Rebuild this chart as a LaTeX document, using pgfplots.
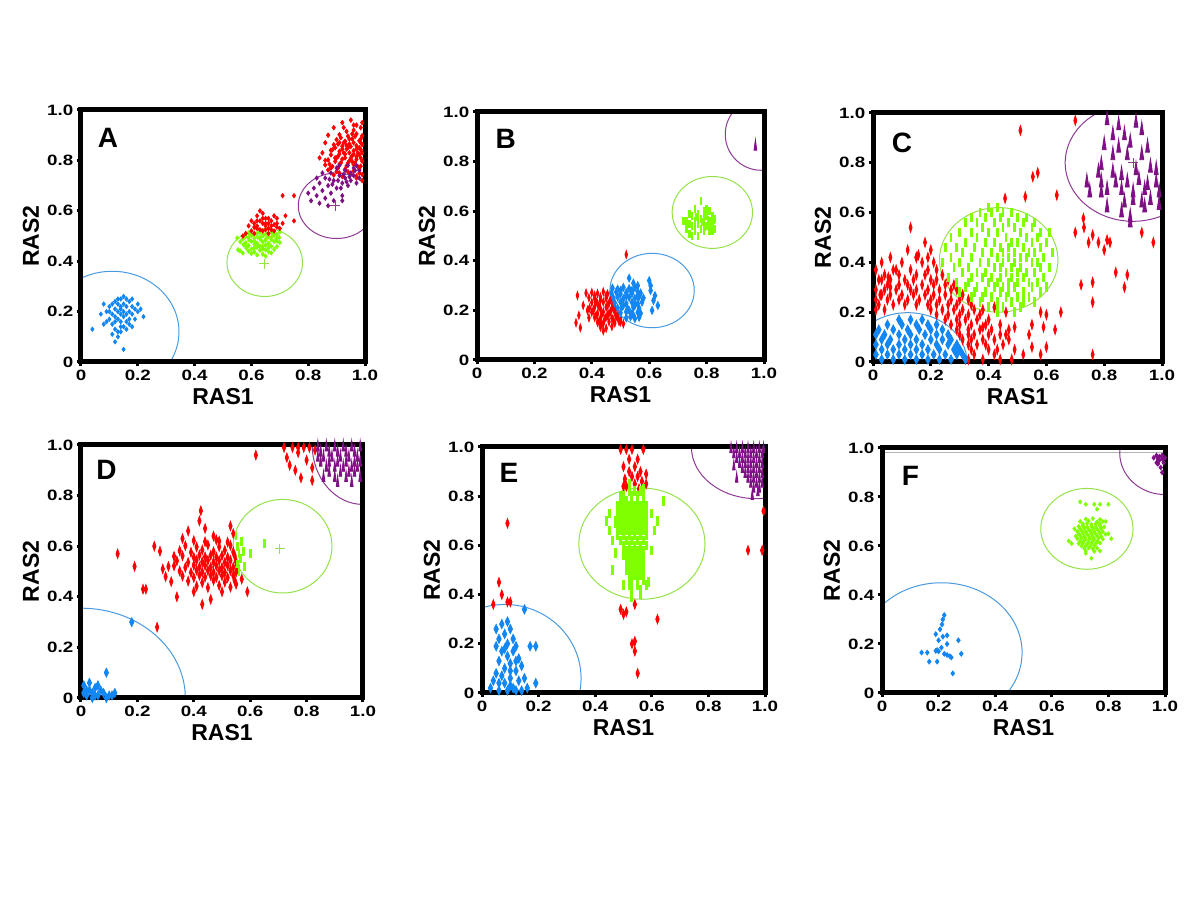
\documentclass[border=0pt]{standalone}
\usepackage{fontspec}
\setmainfont{Liberation Sans}
\usepackage{pgfplots}
\pgfplotsset{compat=1.18}
\definecolor{cR}{HTML}{FF0000}
\definecolor{cG}{HTML}{80FF00}
\definecolor{cB}{HTML}{1286F2}
\definecolor{cP}{HTML}{7E0F85}
\definecolor{lG}{HTML}{94E24A}
\definecolor{lB}{HTML}{4A9AE0}
\definecolor{lP}{HTML}{8E3A94}
\newcommand{\tl}[1]{\scalebox{1.25}[1]{#1}}
\tikzset{lett/.style={font=\bfseries\fontsize{14}{16}\selectfont}}
\pgfplotsset{
  panel/.style={
    scale only axis, anchor=south west,
    xmin=0,xmax=1,ymin=0,ymax=1,
    xtick={0,0.2,0.4,0.6,0.8,1}, xticklabels={\tl{0},\tl{0.2},\tl{0.4},\tl{0.6},\tl{0.8},\tl{1.0}},
    ytick={0,0.2,0.4,0.6,0.8,1}, yticklabels={\tl{0},\tl{0.2},\tl{0.4},\tl{0.6},\tl{0.8},\tl{1.0}},
    /pgf/number format/assume math mode=true,
    axis line style={line width=2.5pt},
    tick style={line width=1.5pt,black}, major tick length=2.2pt,
    tick align=outside, tick pos=left,
    ticklabel style={font=\bfseries\fontsize{7.5}{9}\selectfont, inner sep=1.5pt},
    xlabel={RAS1}, ylabel={RAS2},
    label style={font=\bfseries\fontsize{11.5}{13}\selectfont},
    xlabel style={yshift=1pt}, ylabel style={yshift=-1pt},
    axis on top, clip=true,
  },
  dm/.style n args={4}{only marks, mark=diamond*, mark size=#2, color=#1,
    mark options={draw=none, fill=#1, xscale=#3, yscale=#4}},
  tm/.style n args={4}{only marks, mark=triangle*, mark size=#2, color=#1,
    mark options={draw=none, fill=#1, xscale=#3, yscale=#4}},
  bm/.style n args={3}{only marks, mark=|, mark size=#2, color=#1,
    mark options={line width=#3}},
  pl/.style={only marks, mark=+, mark size=2.5pt, color=#1, mark options={line width=0.4pt}},
}
\begin{document}
\begin{tikzpicture}
\path[use as bounding box] (0,0) rectangle (600pt,450pt);
% ================= A =================
\begin{axis}[panel, at={(40.5pt,269pt)}, width=142pt, height=126pt]
\addplot[dm={cB}{1.05pt}{1}{1}] coordinates {
(0.04,0.13)(0.08,0.23)(0.09,0.20)(0.10,0.22)(0.10,0.17)(0.11,0.19)(0.11,0.15)(0.12,0.24)(0.12,0.21)(0.12,0.18)(0.12,0.13)(0.13,0.23)(0.13,0.20)(0.13,0.17)(0.13,0.10)(0.14,0.25)(0.14,0.22)(0.14,0.19)(0.14,0.16)(0.14,0.12)(0.15,0.26)(0.15,0.23)(0.15,0.20)(0.15,0.18)(0.15,0.14)(0.16,0.22)(0.16,0.19)(0.16,0.16)(0.17,0.24)(0.17,0.20)(0.17,0.17)(0.18,0.22)(0.18,0.19)(0.18,0.14)(0.19,0.21)(0.20,0.20)(0.20,0.23)(0.22,0.18)(0.11,0.11)(0.12,0.08)(0.15,0.05)(0.09,0.16)(0.07,0.19)(0.08,0.15)(0.16,0.25)(0.12,0.16)(0.14,0.21)(0.16,0.13)(0.19,0.17)(0.10,0.20)(0.13,0.25)(0.11,0.23)(0.17,0.15)(0.14,0.14)(0.13,0.12)(0.18,0.25)(0.21,0.21)};
\addplot[dm={cG}{1.05pt}{1}{1}] coordinates {
(0.59,0.512)(0.612,0.507)(0.63,0.515)(0.651,0.509)(0.672,0.513)(0.69,0.506)(0.70,0.516)
(0.58,0.498)(0.60,0.502)(0.622,0.495)(0.641,0.501)(0.66,0.497)(0.68,0.503)(0.698,0.494)
(0.57,0.488)(0.592,0.484)(0.61,0.491)(0.632,0.486)(0.652,0.49)(0.67,0.485)(0.688,0.489)
(0.561,0.477)(0.58,0.473)(0.60,0.479)(0.62,0.472)(0.64,0.476)(0.661,0.471)(0.68,0.478)(0.70,0.474)
(0.572,0.465)(0.59,0.462)(0.611,0.467)(0.63,0.46)(0.65,0.464)(0.67,0.459)
(0.582,0.452)(0.60,0.448)(0.62,0.455)(0.641,0.449)(0.66,0.453)(0.68,0.447)
(0.59,0.44)(0.61,0.437)(0.63,0.443)(0.66,0.438)(0.56,0.441)(0.60,0.43)(0.64,0.428)(0.67,0.433)
(0.57,0.432)(0.62,0.425)(0.65,0.42)(0.55,0.492)(0.553,0.445)(0.69,0.458)
(0.60,0.505)(0.62,0.51)(0.64,0.505)(0.66,0.508)(0.68,0.51)(0.59,0.494)(0.61,0.48)(0.63,0.495)(0.65,0.482)(0.67,0.495)(0.69,0.48)(0.58,0.462)(0.62,0.465)(0.64,0.458)(0.66,0.468)(0.61,0.452)(0.65,0.445)};
\addplot[dm={cR}{1.05pt}{1}{1}] coordinates {
(0.58,0.51)(0.60,0.52)(0.62,0.53)(0.64,0.52)(0.66,0.53)(0.68,0.52)(0.70,0.53)(0.61,0.55)(0.63,0.56)(0.65,0.55)(0.67,0.56)(0.69,0.55)(0.62,0.58)(0.64,0.59)(0.66,0.57)(0.68,0.58)(0.63,0.60)(0.65,0.54)(0.67,0.54)(0.59,0.54)(0.60,0.56)(0.57,0.50)(0.71,0.66)(0.75,0.66)(0.75,0.56)(0.72,0.58)(0.71,0.55)(0.69,0.57)(0.64,0.55)(0.62,0.54)(0.66,0.51)(0.61,0.51)(0.63,0.525)(0.65,0.525)(0.67,0.525)(0.61,0.535)(0.69,0.535)(0.64,0.57)(0.66,0.55)(0.62,0.56)(0.68,0.545)(0.65,0.57)};
\addplot[dm={cR}{1.1pt}{1}{1}] coordinates {
(0.89,0.742)(0.92,0.736)(0.95,0.745)(0.97,0.738)(0.99,0.744)
(0.87,0.762)(0.90,0.756)(0.93,0.765)(0.96,0.758)(0.98,0.763)
(0.86,0.782)(0.885,0.776)(0.91,0.785)(0.935,0.778)(0.96,0.784)(0.985,0.777)
(0.87,0.802)(0.895,0.796)(0.92,0.805)(0.945,0.798)(0.97,0.804)(0.99,0.797)
(0.88,0.822)(0.905,0.816)(0.93,0.825)(0.955,0.818)(0.98,0.823)
(0.885,0.842)(0.91,0.836)(0.935,0.845)(0.96,0.838)(0.985,0.843)
(0.89,0.862)(0.92,0.856)(0.945,0.865)(0.97,0.858)(0.99,0.863)
(0.90,0.882)(0.93,0.876)(0.955,0.885)(0.98,0.878)
(0.91,0.902)(0.94,0.896)(0.97,0.905)(0.99,0.898)
(0.89,0.93)(0.92,0.95)(0.95,0.96)(0.97,0.94)(0.99,0.95)(0.87,0.90)(0.86,0.87)(0.85,0.83)(0.84,0.81)(0.96,0.92)(0.985,0.93)(0.88,0.84)(0.86,0.80)(0.99,0.72)(0.97,0.73)
(0.90,0.81)(0.925,0.83)(0.95,0.81)(0.975,0.83)(0.94,0.85)(0.915,0.79)(0.965,0.79)(0.91,0.87)(0.96,0.87)
(0.875,0.785)(0.905,0.77)(0.94,0.79)(0.975,0.775)(0.93,0.81)(0.96,0.825)(0.92,0.845)(0.95,0.855)(0.98,0.85)(0.925,0.87)(0.965,0.895)(0.935,0.915)
(0.88,0.77)(0.91,0.75)(0.94,0.755)(0.98,0.75)(0.895,0.81)(0.955,0.795)(0.985,0.81)(0.91,0.825)(0.97,0.815)(0.895,0.85)(0.945,0.83)(0.97,0.845)(0.99,0.83)(0.905,0.865)(0.935,0.86)(0.985,0.87)(0.915,0.89)(0.945,0.885)(0.985,0.885)(0.955,0.905)(0.925,0.93)(0.96,0.94)};
\addplot[dm={cP}{1.05pt}{1}{1}] coordinates {
(0.80,0.67)(0.81,0.64)(0.82,0.69)(0.83,0.66)(0.84,0.71)(0.85,0.68)(0.86,0.65)(0.86,0.73)(0.87,0.70)(0.88,0.67)(0.88,0.75)(0.89,0.72)(0.90,0.69)(0.90,0.77)(0.91,0.74)(0.92,0.71)(0.92,0.66)(0.93,0.76)(0.93,0.73)(0.94,0.70)(0.95,0.75)(0.95,0.72)(0.96,0.77)(0.96,0.74)(0.97,0.71)(0.98,0.76)(0.98,0.73)(0.89,0.64)(0.84,0.63)(0.87,0.62)(0.91,0.78)(0.94,0.78)(0.85,0.75)(0.83,0.73)(0.97,0.78)(0.92,0.64)(0.885,0.705)(0.905,0.72)(0.925,0.745)(0.945,0.735)(0.965,0.76)(0.915,0.69)(0.875,0.725)(0.935,0.715)};
\addplot[pl=lG] coordinates {(0.645,0.39)};
\addplot[pl=lP] coordinates {(0.895,0.62)};
\draw[lB, line width=0.5pt] (axis cs:0.11,0.12) ellipse [x radius=0.235, y radius=0.24];
\draw[lG, line width=0.5pt] (axis cs:0.647,0.395) ellipse [x radius=0.133, y radius=0.135];
\draw[lP, line width=0.5pt] (axis cs:0.90,0.62) ellipse [x radius=0.135, y radius=0.13];
\node[lett] at (rel axis cs:0.095,0.89) {A};
\end{axis}
% ================= B =================
\begin{axis}[panel, at={(238.5pt,270pt)}, width=143.5pt, height=124pt]
\addplot[dm={cR}{1.95pt}{0.45}{1}] coordinates {
(0.345,0.15)(0.35,0.26)(0.355,0.18)(0.36,0.13)(0.37,0.22)(0.38,0.27)(0.385,0.20)(0.39,0.17)(0.52,0.425)
(0.40,0.272)(0.42,0.268)(0.44,0.275)(0.455,0.266)
(0.39,0.251)(0.41,0.247)(0.43,0.254)(0.45,0.249)(0.465,0.245)
(0.40,0.232)(0.42,0.227)(0.44,0.234)(0.46,0.229)(0.472,0.225)
(0.392,0.21)(0.41,0.214)(0.43,0.207)(0.45,0.213)(0.47,0.208)(0.482,0.205)
(0.40,0.192)(0.42,0.187)(0.44,0.194)(0.46,0.189)(0.48,0.193)(0.49,0.186)
(0.41,0.172)(0.43,0.168)(0.45,0.174)(0.47,0.169)(0.49,0.173)(0.50,0.166)
(0.42,0.152)(0.44,0.147)(0.46,0.154)(0.48,0.149)(0.50,0.153)(0.51,0.146)
(0.43,0.133)(0.45,0.128)(0.47,0.135)(0.44,0.118)(0.415,0.235)(0.435,0.185)(0.455,0.22)(0.475,0.16)(0.425,0.155)
(0.405,0.20)(0.425,0.215)(0.445,0.165)(0.465,0.195)(0.485,0.175)(0.495,0.155)(0.41,0.26)(0.43,0.24)(0.45,0.26)(0.415,0.18)(0.455,0.18)(0.475,0.215)(0.435,0.145)};
\addplot[dm={cB}{1.95pt}{0.65}{1}] coordinates {
(0.472,0.29)(0.49,0.286)(0.51,0.293)(0.53,0.288)(0.55,0.292)
(0.468,0.27)(0.485,0.274)(0.50,0.267)(0.52,0.272)(0.54,0.268)(0.56,0.275)(0.57,0.27)
(0.475,0.25)(0.49,0.254)(0.51,0.247)(0.53,0.252)(0.55,0.248)(0.565,0.255)(0.58,0.25)
(0.48,0.23)(0.50,0.234)(0.52,0.227)(0.54,0.232)(0.56,0.228)(0.575,0.233)
(0.49,0.21)(0.505,0.214)(0.525,0.207)(0.545,0.212)(0.565,0.208)
(0.50,0.19)(0.52,0.194)(0.54,0.187)(0.56,0.192)(0.57,0.188)
(0.52,0.17)(0.535,0.174)(0.55,0.167)(0.565,0.172)
(0.53,0.33)(0.60,0.32)(0.605,0.30)(0.62,0.26)(0.63,0.22)(0.61,0.20)(0.605,0.28)(0.615,0.24)(0.545,0.31)(0.56,0.30)
(0.50,0.28)(0.54,0.28)(0.52,0.26)(0.56,0.26)(0.51,0.22)(0.55,0.22)(0.53,0.20)(0.545,0.18)};
\addplot[bm={cG}{2pt}{1.2pt}] coordinates {
(0.72,0.56)(0.73,0.53)(0.74,0.55)(0.74,0.51)(0.75,0.58)(0.75,0.54)(0.76,0.56)(0.76,0.52)(0.77,0.59)(0.77,0.55)(0.77,0.50)(0.78,0.57)(0.78,0.53)(0.78,0.64)(0.79,0.60)(0.79,0.55)(0.79,0.52)(0.80,0.58)(0.80,0.54)(0.81,0.56)(0.81,0.52)(0.81,0.60)(0.82,0.55)(0.82,0.58)(0.83,0.57)(0.83,0.53)(0.76,0.61)(0.74,0.59)(0.80,0.61)(0.82,0.52)(0.75,0.50)(0.79,0.57)(0.81,0.54)(0.77,0.57)(0.73,0.56)(0.76,0.54)(0.785,0.555)(0.795,0.535)(0.805,0.565)(0.815,0.545)(0.825,0.565)(0.765,0.575)};
\addplot[tm={cP}{1.6pt}{0.5}{2.2}] coordinates {(0.97,0.86)};
\draw[lB, line width=0.5pt] (axis cs:0.61,0.28) ellipse [x radius=0.147, y radius=0.15];
\draw[lG, line width=0.5pt] (axis cs:0.82,0.595) ellipse [x radius=0.14, y radius=0.145];
\draw[lP, line width=0.5pt] (axis cs:0.99,0.91) ellipse [x radius=0.125, y radius=0.145];
\node[lett] at (rel axis cs:0.1,0.89) {B};
\end{axis}
% ================= C =================
\begin{axis}[panel, at={(436.5pt,269pt)}, width=144.5pt, height=124.5pt]
\addplot[dm={cR}{2.4pt}{0.42}{1}] coordinates {
(0.51,0.93)(0.70,0.97)(0.553,0.744)(0.57,0.76)(0.636,0.67)(0.457,0.657)(0.527,0.664)(0.13,0.54)(0.18,0.48)(0.15,0.42)(0.157,0.43)(0.08,0.37)(0.053,0.34)(0.03,0.33)(0.025,0.27)(0.06,0.30)
(0.728,0.577)(0.73,0.54)(0.76,0.51)(0.746,0.48)(0.78,0.48)(0.81,0.49)(0.82,0.48)(0.80,0.45)(0.84,0.36)(0.88,0.35)(0.87,0.30)(0.72,0.31)(0.76,0.32)(0.76,0.24)(0.76,0.03)(0.93,0.52)(0.97,0.48)(0.70,0.52)
(0.60,0.19)(0.58,0.20)(0.55,0.15)(0.59,0.14)(0.54,0.11)(0.55,0.06)(0.60,0.06)(0.65,0.20)(0.63,0.13)(0.43,0.05)(0.46,0.11)(0.49,0.14)(0.42,0.22)(0.46,0.20)(0.38,0.14)(0.33,0.11)(0.36,0.07)
(0.12,0.45)(0.20,0.45)(0.06,0.42)(0.15,0.42)(0.19,0.42)(0.03,0.40)(0.10,0.40)(0.17,0.40)(0.21,0.40)
(0.01,0.37)(0.07,0.37)(0.13,0.37)(0.19,0.37)(0.22,0.37)(0.04,0.35)(0.09,0.35)(0.15,0.35)(0.18,0.35)(0.24,0.35)
(0.02,0.33)(0.06,0.33)(0.11,0.33)(0.14,0.33)(0.20,0.33)(0.22,0.33)(0.26,0.33)
(0.05,0.31)(0.09,0.31)(0.12,0.31)(0.17,0.31)(0.21,0.31)(0.25,0.31)(0.28,0.31)
(0.01,0.29)(0.04,0.29)(0.08,0.29)(0.13,0.29)(0.15,0.29)(0.19,0.29)(0.23,0.29)(0.27,0.29)(0.29,0.29)
(0.03,0.27)(0.06,0.27)(0.10,0.27)(0.14,0.27)(0.18,0.27)(0.21,0.27)(0.25,0.27)(0.31,0.27)
(0.01,0.25)(0.05,0.25)(0.09,0.25)(0.12,0.25)(0.16,0.25)(0.20,0.25)(0.23,0.25)(0.27,0.25)(0.30,0.25)(0.33,0.25)
(0.02,0.23)(0.07,0.23)(0.11,0.23)(0.15,0.23)(0.19,0.23)(0.22,0.23)(0.26,0.23)(0.29,0.23)(0.34,0.23)
(0.01,0.21)(0.04,0.21)(0.20,0.21)(0.24,0.21)(0.28,0.21)(0.31,0.21)(0.35,0.21)(0.38,0.21)
(0.22,0.19)(0.26,0.19)(0.30,0.19)(0.33,0.19)(0.37,0.19)(0.25,0.17)(0.29,0.17)(0.32,0.17)(0.36,0.17)(0.40,0.17)
(0.27,0.15)(0.30,0.15)(0.34,0.15)(0.39,0.15)(0.44,0.15)(0.29,0.13)(0.33,0.13)(0.37,0.13)(0.41,0.13)(0.47,0.13)
(0.30,0.11)(0.35,0.11)(0.40,0.11)(0.44,0.11)(0.31,0.09)(0.34,0.09)(0.38,0.09)(0.42,0.09)(0.47,0.09)
(0.33,0.07)(0.39,0.07)(0.45,0.07)(0.34,0.05)(0.40,0.05)(0.49,0.05)(0.35,0.03)(0.42,0.03)(0.52,0.03)(0.58,0.03)(0.33,0.01)(0.38,0.01)(0.44,0.01)(0.48,0.01)};
\addplot[bm={cG}{2.4pt}{1.4pt}] coordinates {
(0.40,0.62)(0.43,0.62)(0.37,0.60)(0.41,0.60)(0.45,0.60)(0.48,0.60)(0.34,0.58)(0.39,0.58)(0.44,0.58)(0.50,0.58)(0.53,0.58)
(0.32,0.56)(0.36,0.56)(0.42,0.56)(0.47,0.56)(0.52,0.56)(0.56,0.56)(0.38,0.54)(0.45,0.54)(0.49,0.54)(0.55,0.54)
(0.30,0.52)(0.34,0.52)(0.40,0.52)(0.43,0.52)(0.51,0.52)(0.58,0.52)(0.61,0.52)(0.27,0.50)(0.36,0.50)(0.46,0.50)(0.53,0.50)(0.57,0.50)
(0.32,0.48)(0.39,0.48)(0.42,0.48)(0.48,0.48)(0.50,0.48)(0.55,0.48)(0.60,0.48)(0.25,0.46)(0.29,0.46)(0.35,0.46)(0.44,0.46)(0.47,0.46)(0.52,0.46)(0.58,0.46)
(0.31,0.44)(0.38,0.44)(0.41,0.44)(0.45,0.44)(0.49,0.44)(0.54,0.44)(0.56,0.44)(0.62,0.44)(0.27,0.42)(0.34,0.42)(0.43,0.42)(0.47,0.42)(0.51,0.42)(0.53,0.42)(0.59,0.42)
(0.24,0.40)(0.30,0.40)(0.37,0.40)(0.40,0.40)(0.45,0.40)(0.49,0.40)(0.55,0.40)(0.57,0.40)(0.28,0.38)(0.33,0.38)(0.42,0.38)(0.44,0.38)(0.48,0.38)(0.51,0.38)(0.58,0.38)(0.61,0.38)
(0.31,0.36)(0.36,0.36)(0.39,0.36)(0.46,0.36)(0.50,0.36)(0.53,0.36)(0.56,0.36)(0.26,0.34)(0.34,0.34)(0.38,0.34)(0.41,0.34)(0.44,0.34)(0.48,0.34)(0.52,0.34)(0.59,0.34)
(0.29,0.32)(0.33,0.32)(0.40,0.32)(0.43,0.32)(0.47,0.32)(0.50,0.32)(0.54,0.32)(0.57,0.32)(0.32,0.30)(0.36,0.30)(0.42,0.30)(0.45,0.30)(0.49,0.30)(0.55,0.30)(0.60,0.30)
(0.30,0.28)(0.35,0.28)(0.39,0.28)(0.44,0.28)(0.47,0.28)(0.52,0.28)(0.58,0.28)(0.34,0.26)(0.38,0.26)(0.41,0.26)(0.46,0.26)(0.50,0.26)(0.54,0.26)
(0.37,0.24)(0.43,0.24)(0.48,0.24)(0.52,0.24)(0.56,0.24)(0.40,0.22)(0.45,0.22)(0.51,0.22)(0.43,0.20)(0.49,0.20)};
\addplot[dm={cB}{2.3pt}{0.7}{1}] coordinates {
(0.09,0.17)(0.13,0.17)(0.17,0.17)(0.05,0.15)(0.10,0.15)(0.15,0.15)(0.19,0.15)(0.22,0.15)
(0.02,0.13)(0.07,0.13)(0.12,0.13)(0.16,0.13)(0.20,0.13)(0.24,0.13)(0.01,0.11)(0.04,0.11)(0.09,0.11)(0.13,0.11)(0.18,0.11)(0.22,0.11)(0.26,0.11)
(0.03,0.09)(0.06,0.09)(0.11,0.09)(0.15,0.09)(0.20,0.09)(0.24,0.09)(0.27,0.09)(0.01,0.07)(0.05,0.07)(0.09,0.07)(0.13,0.07)(0.17,0.07)(0.22,0.07)(0.26,0.07)(0.29,0.07)
(0.03,0.05)(0.07,0.05)(0.11,0.05)(0.15,0.05)(0.19,0.05)(0.23,0.05)(0.28,0.05)(0.30,0.05)(0.01,0.03)(0.05,0.03)(0.09,0.03)(0.13,0.03)(0.17,0.03)(0.21,0.03)(0.25,0.03)(0.29,0.03)(0.31,0.03)
(0.03,0.01)(0.07,0.01)(0.11,0.01)(0.15,0.01)(0.19,0.01)(0.23,0.01)(0.27,0.01)(0.32,0.01)};
\addplot[tm={cP}{1.9pt}{0.6}{2.3}] coordinates {
(0.81,0.97)(0.91,0.96)(0.85,0.95)(0.83,0.91)(0.87,0.91)(0.93,0.93)(0.80,0.87)(0.85,0.86)(0.89,0.88)(0.95,0.86)(0.83,0.83)(0.88,0.83)(0.93,0.83)(0.79,0.79)(0.78,0.76)(0.83,0.76)(0.86,0.75)(0.91,0.77)(0.96,0.78)(0.98,0.77)
(0.74,0.72)(0.79,0.72)(0.84,0.72)(0.88,0.72)(0.92,0.73)(0.95,0.71)(0.75,0.68)(0.81,0.69)(0.86,0.69)(0.90,0.68)(0.94,0.69)(0.99,0.68)(0.81,0.62)(0.87,0.64)(0.90,0.65)(0.93,0.64)(0.96,0.65)(0.86,0.60)(0.89,0.58)(0.94,0.62)(0.99,0.63)(0.89,0.56)(0.98,0.72)(0.79,0.68)};
\addplot[pl=lP] coordinates {(0.90,0.80)};
\draw[lB, line width=0.5pt] (axis cs:0.12,0.0) ellipse [x radius=0.205, y radius=0.198];
\draw[lG, line width=0.5pt] (axis cs:0.435,0.41) ellipse [x radius=0.205, y radius=0.21];
\draw[lP, line width=0.5pt] (axis cs:0.90,0.80) ellipse [x radius=0.235, y radius=0.235];
\node[lett] at (rel axis cs:0.1,0.88) {C};
\end{axis}
% ================= D =================
\begin{axis}[panel, at={(40.5pt,101pt)}, width=141pt, height=126.5pt]
\addplot[dm={cB}{2.2pt}{0.65}{1}] coordinates {
(0.01,0.05)(0.02,0.03)(0.03,0.06)(0.04,0.02)(0.05,0.04)(0.06,0.01)(0.02,0.01)(0.07,0.03)(0.08,0.02)(0.10,0.01)(0.12,0.02)(0.11,0.01)(0.04,0.00)(0.09,0.00)(0.03,0.03)(0.09,0.10)(0.18,0.30)(0.06,0.05)(0.01,0.02)(0.05,0.01)};
\addplot[dm={cR}{2.3pt}{0.48}{1}] coordinates {
(0.13,0.57)(0.19,0.52)(0.22,0.43)(0.23,0.43)(0.27,0.28)(0.59,0.42)(0.26,0.60)(0.28,0.58)(0.30,0.48)(0.32,0.46)(0.34,0.40)(0.42,0.70)(0.425,0.74)(0.44,0.67)(0.46,0.39)(0.43,0.37)(0.53,0.68)(0.54,0.65)(0.57,0.47)(0.55,0.45)(0.36,0.63)(0.38,0.66)(0.33,0.56)(0.31,0.52)(0.29,0.51)(0.40,0.42)(0.50,0.42)(0.49,0.62)(0.47,0.64)
(0.40,0.622)(0.44,0.618)(0.48,0.625)(0.52,0.616)
(0.37,0.602)(0.41,0.597)(0.45,0.605)(0.49,0.598)(0.53,0.603)
(0.35,0.582)(0.39,0.576)(0.43,0.585)(0.47,0.578)(0.51,0.584)(0.54,0.577)
(0.36,0.562)(0.40,0.556)(0.42,0.565)(0.44,0.558)(0.46,0.564)(0.48,0.557)(0.50,0.563)(0.52,0.556)(0.545,0.562)
(0.34,0.542)(0.38,0.536)(0.41,0.545)(0.43,0.538)(0.45,0.544)(0.47,0.537)(0.49,0.543)(0.51,0.536)(0.53,0.544)(0.55,0.538)
(0.33,0.522)(0.37,0.516)(0.40,0.525)(0.42,0.518)(0.44,0.524)(0.46,0.517)(0.48,0.523)(0.50,0.516)(0.52,0.524)(0.54,0.517)(0.555,0.523)
(0.35,0.502)(0.39,0.496)(0.41,0.505)(0.43,0.498)(0.45,0.504)(0.47,0.497)(0.49,0.503)(0.51,0.496)(0.53,0.504)(0.55,0.497)
(0.36,0.482)(0.40,0.476)(0.42,0.485)(0.44,0.478)(0.46,0.484)(0.48,0.477)(0.50,0.483)(0.52,0.476)(0.54,0.484)
(0.38,0.462)(0.43,0.456)(0.47,0.465)(0.51,0.458)(0.545,0.464)(0.41,0.442)(0.45,0.436)(0.49,0.445)(0.53,0.438)
(0.62,0.96)(0.73,0.95)(0.74,0.92)(0.75,0.99)(0.76,0.90)(0.77,0.97)(0.78,0.87)(0.80,0.94)(0.81,0.99)(0.82,0.91)(0.82,0.86)(0.83,0.98)(0.79,0.99)(0.72,0.99)(0.77,0.99)};
\addplot[bm={cG}{2.2pt}{1.4pt}] coordinates {
(0.55,0.64)(0.555,0.60)(0.56,0.57)(0.555,0.53)(0.56,0.50)(0.565,0.55)(0.57,0.62)(0.575,0.58)(0.58,0.52)(0.60,0.57)(0.65,0.61)};
\addplot[tm={cP}{1.6pt}{0.5}{2.2}] coordinates {
(0.84,0.99)(0.87,0.99)(0.90,0.99)(0.93,0.99)(0.96,0.99)(0.99,0.99)(0.85,0.97)(0.88,0.97)(0.91,0.97)(0.94,0.97)(0.97,0.97)
(0.84,0.95)(0.86,0.95)(0.89,0.95)(0.92,0.95)(0.95,0.95)(0.98,0.95)(0.85,0.93)(0.88,0.93)(0.91,0.93)(0.94,0.93)(0.97,0.93)(0.99,0.93)
(0.87,0.91)(0.90,0.91)(0.93,0.91)(0.96,0.91)(0.98,0.91)(0.88,0.89)(0.92,0.89)(0.95,0.89)(0.97,0.89)(0.86,0.87)(0.90,0.87)(0.94,0.87)(0.99,0.87)(0.91,0.85)(0.96,0.85)};
\addplot[pl=lG] coordinates {(0.705,0.59)};
\draw[lB, line width=0.5pt] (axis cs:0,0) ellipse [x radius=0.37, y radius=0.355];
\draw[lG, line width=0.5pt] (axis cs:0.715,0.60) ellipse [x radius=0.175, y radius=0.185];
\draw[lP, line width=0.5pt] (axis cs:1.0,1.0) ellipse [x radius=0.18, y radius=0.235];
\node[lett] at (rel axis cs:0.09,0.9) {D};
\end{axis}
% ================= E =================
\begin{axis}[panel, at={(241pt,103.5pt)}, width=141.5pt, height=123pt]
\addplot[dm={cB}{2.3pt}{0.65}{1}] coordinates {
(0.05,0.26)(0.05,0.19)(0.06,0.22)(0.06,0.13)(0.05,0.08)(0.07,0.28)(0.07,0.17)(0.08,0.24)(0.08,0.10)(0.08,0.04)(0.09,0.29)(0.09,0.20)(0.09,0.15)(0.10,0.26)(0.10,0.12)(0.10,0.06)(0.11,0.22)(0.11,0.17)(0.11,0.02)(0.12,0.19)(0.12,0.09)(0.13,0.14)(0.13,0.05)(0.14,0.11)(0.15,0.34)(0.15,0.06)(0.17,0.19)(0.19,0.19)(0.19,0.04)(0.03,0.02)(0.06,0.01)(0.09,0.01)(0.12,0.01)(0.04,0.05)(0.07,0.07)(0.10,0.09)(0.12,0.13)(0.14,0.01)(0.16,0.02)(0.08,0.18)(0.06,0.04)(0.10,0.03)};
\addplot[dm={cR}{2.3pt}{0.5}{1}] coordinates {
(0.09,0.69)(0.06,0.45)(0.07,0.40)(0.09,0.37)(0.10,0.37)(0.04,0.36)(0.49,0.34)(0.50,0.32)(0.51,0.33)(0.54,0.36)(0.62,0.30)(0.53,0.20)(0.54,0.17)(0.54,0.21)(0.55,0.08)(0.995,0.74)(0.94,0.58)(0.99,0.58)
(0.49,0.99)(0.50,0.92)(0.505,0.87)(0.51,0.84)(0.52,0.90)(0.52,0.95)(0.53,0.88)(0.53,0.99)(0.54,0.85)(0.54,0.92)(0.55,0.88)(0.555,0.83)(0.56,0.90)(0.565,0.86)(0.57,0.99)(0.58,0.85)(0.51,0.99)(0.50,0.84)(0.55,0.95)(0.58,0.89)};
\addplot[bm={cG}{2.4pt}{1.5pt}] coordinates {
(0.52,0.82)(0.54,0.82)(0.56,0.82)(0.50,0.80)(0.53,0.80)(0.55,0.80)(0.57,0.80)(0.49,0.78)(0.51,0.78)(0.53,0.78)(0.55,0.78)(0.57,0.78)
(0.48,0.76)(0.50,0.76)(0.52,0.76)(0.54,0.76)(0.56,0.76)(0.58,0.76)(0.49,0.74)(0.51,0.74)(0.53,0.74)(0.55,0.74)(0.57,0.74)
(0.48,0.72)(0.50,0.72)(0.52,0.72)(0.54,0.72)(0.56,0.72)(0.58,0.72)(0.47,0.70)(0.49,0.70)(0.51,0.70)(0.53,0.70)(0.55,0.70)(0.57,0.70)
(0.48,0.68)(0.50,0.68)(0.52,0.68)(0.54,0.68)(0.56,0.68)(0.58,0.68)(0.49,0.66)(0.51,0.66)(0.53,0.66)(0.55,0.66)(0.57,0.66)
(0.48,0.64)(0.50,0.64)(0.52,0.64)(0.54,0.64)(0.56,0.64)(0.58,0.64)(0.49,0.62)(0.51,0.62)(0.53,0.62)(0.55,0.62)(0.57,0.62)
(0.50,0.60)(0.52,0.60)(0.54,0.60)(0.56,0.60)(0.58,0.60)(0.51,0.58)(0.53,0.58)(0.55,0.58)(0.57,0.58)(0.50,0.56)(0.52,0.56)(0.54,0.56)(0.56,0.56)
(0.51,0.54)(0.53,0.54)(0.55,0.54)(0.57,0.54)(0.52,0.52)(0.54,0.52)(0.56,0.52)(0.51,0.50)(0.53,0.50)(0.55,0.50)(0.57,0.50)(0.52,0.48)(0.54,0.48)(0.56,0.48)
(0.53,0.46)(0.55,0.46)(0.57,0.46)(0.52,0.44)(0.55,0.44)(0.58,0.44)(0.53,0.42)(0.56,0.42)
(0.44,0.70)(0.45,0.66)(0.45,0.73)(0.46,0.62)(0.47,0.69)(0.47,0.57)(0.46,0.50)(0.60,0.73)(0.61,0.66)(0.62,0.70)(0.64,0.78)(0.60,0.58)(0.59,0.45)(0.56,0.40)(0.53,0.39)(0.50,0.44)(0.49,0.80)(0.57,0.83)(0.52,0.85)};
\addplot[tm={cP}{1.5pt}{0.5}{2.2}] coordinates {
(0.88,0.99)(0.90,0.99)(0.92,0.99)(0.94,0.99)(0.96,0.99)(0.98,0.99)(0.995,0.99)(0.89,0.97)(0.91,0.97)(0.93,0.97)(0.95,0.97)(0.97,0.97)(0.99,0.97)
(0.90,0.95)(0.92,0.95)(0.94,0.95)(0.96,0.95)(0.98,0.95)(0.91,0.93)(0.93,0.93)(0.95,0.93)(0.97,0.93)(0.99,0.93)(0.92,0.91)(0.94,0.91)(0.96,0.91)(0.98,0.91)
(0.93,0.89)(0.95,0.89)(0.97,0.89)(0.99,0.89)(0.94,0.87)(0.96,0.87)(0.98,0.87)(0.95,0.85)(0.97,0.85)(0.99,0.85)(0.96,0.83)(0.98,0.83)(0.90,0.87)(0.955,0.80)(0.975,0.815)(0.89,0.92)};
\draw[lB, line width=0.5pt] (axis cs:0.08,0.06) ellipse [x radius=0.27, y radius=0.30];
\draw[lG, line width=0.5pt] (axis cs:0.565,0.607) ellipse [x radius=0.223, y radius=0.226];
\draw[lP, line width=0.5pt] (axis cs:0.97,1.0) ellipse [x radius=0.23, y radius=0.21];
\node[lett] at (rel axis cs:0.095,0.895) {E};
\end{axis}
% ================= F =================
\begin{axis}[panel, at={(441pt,103.5pt)}, width=141.5pt, height=122.5pt]
\addplot[dm={cB}{1.2pt}{1}{1}] coordinates {
(0.22,0.318)(0.215,0.30)(0.212,0.28)(0.205,0.26)(0.19,0.24)(0.215,0.23)(0.23,0.235)(0.20,0.215)(0.23,0.20)(0.27,0.215)(0.21,0.185)(0.195,0.175)(0.20,0.17)(0.14,0.165)(0.16,0.165)(0.22,0.16)(0.23,0.155)(0.24,0.15)(0.245,0.145)(0.28,0.16)(0.167,0.128)(0.195,0.128)(0.25,0.08)(0.19,0.172)};
\addplot[dm={cG}{0.95pt}{1.1}{1}] coordinates {
(0.72,0.71)(0.745,0.712)(0.77,0.708)(0.70,0.70)(0.73,0.702)(0.76,0.698)(0.78,0.70)
(0.71,0.69)(0.725,0.692)(0.74,0.688)(0.755,0.691)(0.77,0.689)
(0.695,0.68)(0.71,0.682)(0.725,0.678)(0.74,0.681)(0.755,0.679)(0.77,0.682)(0.785,0.678)
(0.70,0.67)(0.715,0.672)(0.73,0.668)(0.745,0.671)(0.76,0.669)(0.775,0.672)
(0.69,0.66)(0.705,0.662)(0.72,0.658)(0.735,0.661)(0.75,0.659)(0.765,0.662)(0.78,0.658)
(0.695,0.65)(0.71,0.652)(0.725,0.648)(0.74,0.651)(0.755,0.649)(0.77,0.652)(0.79,0.648)
(0.685,0.64)(0.70,0.642)(0.715,0.638)(0.73,0.641)(0.745,0.639)(0.76,0.642)(0.775,0.638)
(0.69,0.63)(0.705,0.632)(0.72,0.628)(0.735,0.631)(0.75,0.629)(0.765,0.632)(0.78,0.628)
(0.70,0.62)(0.715,0.622)(0.73,0.618)(0.745,0.621)(0.76,0.619)
(0.695,0.61)(0.71,0.612)(0.725,0.608)(0.74,0.611)(0.755,0.609)(0.77,0.612)
(0.705,0.60)(0.72,0.602)(0.735,0.598)(0.75,0.601)(0.715,0.59)(0.73,0.592)(0.745,0.588)(0.76,0.591)(0.72,0.58)(0.75,0.578)
(0.70,0.78)(0.72,0.77)(0.75,0.77)(0.77,0.77)(0.80,0.77)(0.76,0.75)(0.66,0.62)(0.67,0.61)(0.68,0.67)(0.80,0.65)(0.81,0.63)(0.79,0.70)(0.74,0.55)(0.72,0.57)(0.77,0.58)};
\addplot[dm={cP}{1.1pt}{1}{1}] coordinates {
(0.97,0.97)(0.98,0.95)(0.99,0.97)(0.97,0.94)(0.985,0.92)(0.995,0.94)(0.99,0.90)(0.975,0.955)(0.96,0.96)(1.0,0.96)(0.98,0.965)(0.99,0.955)(0.975,0.935)};
\draw[gray!60, line width=0.4pt] (axis cs:0,0.983) -- (axis cs:1,0.983);
\draw[lB, line width=0.5pt] (axis cs:0.21,0.165) ellipse [x radius=0.285, y radius=0.285];
\draw[lG, line width=0.5pt] (axis cs:0.724,0.67) ellipse [x radius=0.163, y radius=0.165];
\draw[lP, line width=0.5pt] (axis cs:1.0,0.98) ellipse [x radius=0.16, y radius=0.17];
\node[lett] at (rel axis cs:0.1,0.885) {F};
\end{axis}
\end{tikzpicture}
\end{document}
